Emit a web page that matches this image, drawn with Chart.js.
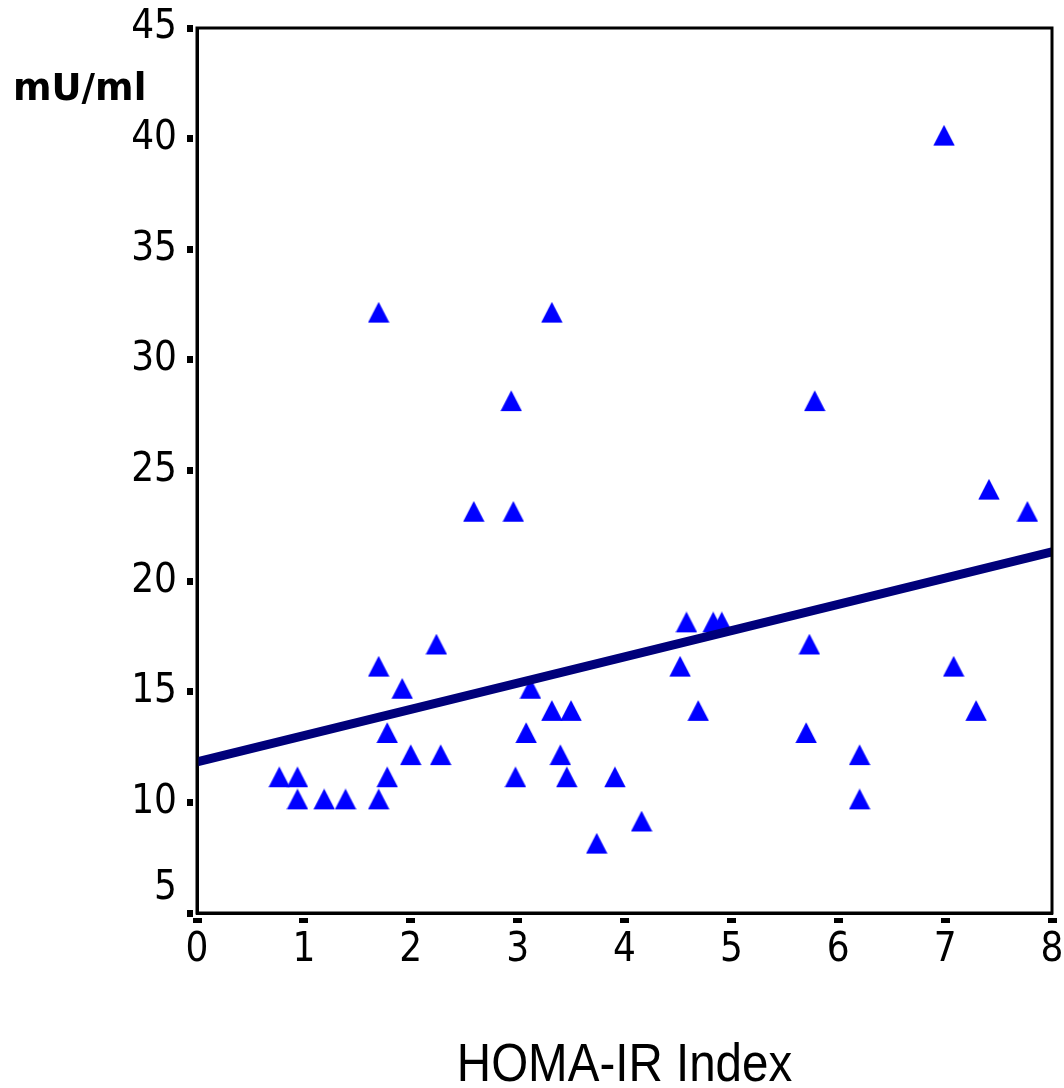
<!DOCTYPE html>
<html><head><meta charset="utf-8">
<script src="https://cdn.jsdelivr.net/npm/chart.js@4/dist/chart.umd.min.js"></script>
<style>html,body{margin:0;padding:0;background:#fff;} canvas{display:block;}</style>
</head><body>
<canvas id="c" width="1064" height="1088"></canvas>
<script>
// ---- data ----
const homaIR  = [0.77,0.94,0.94,1.19,1.39,1.70,1.70,1.70,1.78,1.78,1.92,2.00,2.24,2.28,2.59,2.94,2.96,2.98,3.12,3.08,3.32,3.32,3.50,3.40,3.46,3.74,3.91,4.16,4.52,4.58,4.69,4.83,4.91,5.70,5.73,5.78,6.20,6.20,6.99,7.08,7.29,7.41,7.77];
const insulin = [11,11,10,10,10,32,16,10,13,11,15,12,17,12,23,28,23,11,15,13,32,14,14,12,11,8,11,9,16,18,14,18,18,13,17,28,12,10,40,16,14,24,23];
const fitX = [0, 8];
const fitY = [11.83, 21.32];
const xTickValues = [0,1,2,3,4,5,6,7,8];
const yTickValues = [5,10,15,20,25,30,35,40,45];
const yTitle = 'mU/ml';
const xTitle = 'HOMA-IR Index';

function makeTriangle(){
  const c = document.createElement('canvas');
  c.width = 22; c.height = 28;
  const g = c.getContext('2d');
  g.fillStyle = '#0000ff';
  g.beginPath(); g.moveTo(11,0.3); g.lineTo(21.7,21); g.lineTo(0.3,21); g.closePath(); g.fill();
  return c;
}
const tri = makeTriangle();

const pts = homaIR.map((x,i)=>({x:x, y:insulin[i]}));
const fitPts = fitX.map((x,i)=>({x:x, y:fitY[i]}));

const tickFont = {family:'"DejaVu Sans Condensed", "DejaVu Sans", sans-serif', size:40};

const framePlugin = {
  id:'frame',
  afterDraw(chart){
    const {ctx, chartArea:a} = chart;
    ctx.save();
    ctx.strokeStyle = '#000'; ctx.lineWidth = 3;
    ctx.strokeRect(a.left, a.top, a.right-a.left, a.bottom-a.top);
    ctx.fillStyle = '#000';
    ctx.textAlign = 'left'; ctx.textBaseline = 'alphabetic';
    ctx.font = 'bold 37px "DejaVu Sans", sans-serif';
    ctx.fillText(yTitle, 13, 100);
    ctx.restore();
    ctx.save();
    ctx.fillStyle = '#000';
    ctx.font = '54px "Liberation Sans", Arial, sans-serif';
    ctx.textAlign = 'center'; ctx.textBaseline = 'alphabetic';
    const sx = 0.88;
    ctx.translate((a.left+a.right)/2, 1081);
    ctx.scale(sx, 1);
    ctx.fillText(xTitle, 0, 0);
    ctx.restore();
  }
};

new Chart(document.getElementById('c'), {
  type:'scatter',
  data:{ datasets:[
    { type:'line', data:fitPts, borderColor:'#00007a', borderWidth:9, pointRadius:0, fill:false, clip:0, order:0, borderCapStyle:'butt' },
    { type:'scatter', data:pts, pointStyle:tri, pointRadius:11, order:1, backgroundColor:'#0000ff', borderColor:'#0000ff' }
  ]},
  options:{
    responsive:false, animation:false, devicePixelRatio:1,
    layout:{ padding:{ top:28, right:9, bottom:0, left:0 } },
    plugins:{ legend:{display:false}, tooltip:{enabled:false} },
    scales:{
      x:{ type:'linear', position:'bottom', min:0, max:8,
          afterBuildTicks(s){ s.ticks = xTickValues.map(v=>({value:v})); },
          afterFit(s){ s.height = 175; s.paddingLeft = 0; s.paddingRight = 0; },
          border:{ display:true, color:'#000', width:3 },
          grid:{ drawOnChartArea:false, drawTicks:true, tickLength:10, tickWidth:9, tickColor:'#000', tickBorderDash:[0,3,6,20] },
          ticks:{ color:'#000', font:tickFont, padding:4, maxRotation:0, autoSkip:false }
      },
      y:{ type:'linear', position:'left', min:5, max:45,
          afterBuildTicks(s){ s.ticks = yTickValues.map(v=>({value:v})); },
          afterFit(s){ s.width = 197; s.paddingTop = 0; s.paddingBottom = 0; },
          border:{ display:true, color:'#000', width:3 },
          grid:{ drawOnChartArea:false, drawTicks:true, tickLength:10, tickWidth:7, tickColor:'#000', tickBorderDash:[6,20] },
          ticks:{ color:'#000', font:tickFont, padding:10, autoSkip:false,
                  callback:(v)=> v===yTickValues[0] ? [String(v),''] : String(v) }
      }
    }
  },
  plugins:[framePlugin]
});
</script>
</body></html>
